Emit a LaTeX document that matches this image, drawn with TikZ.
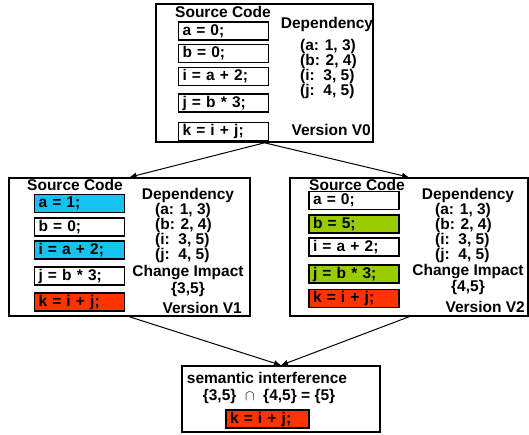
\documentclass[tikz,border=0pt]{standalone}
\usepackage{fontspec}
\setmainfont{Liberation Sans}
\usetikzlibrary{arrows.meta}

\definecolor{chblue}{RGB}{20,195,240}
\definecolor{chgreen}{RGB}{153,204,0}
\definecolor{chred}{RGB}{255,51,0}

\newcommand{\cpwhite}{white}
\newcommand{\cpblue}{chblue}
\newcommand{\cpgreen}{chgreen}
\newcommand{\cpred}{chred}
\newcommand{\codenode}[4]{\node[codebox,fill=#1] (#2) at (#3) {#4};}
\newcommand{\depnode}[2]{\node[deptext] (#1) at (#2) {(a: 1, 3)\\(b: 2, 4)\\(i:\ \ 3, 5)\\(j:\ \ 4, 5)};}

\tikzset{
  txt/.style={font=\bfseries\fontsize{15.5}{15}\selectfont,inner sep=0pt},
  verbox/.style={draw,line width=1.6pt,fill=white,inner sep=0pt},
  codebox/.style={txt,draw,line width=1.3pt,text width=82pt,inner xsep=4pt,
    minimum height=18pt,align=left},
  deptext/.style={txt,align=left,anchor=north west},
  flow/.style={line width=1pt,-{Latex[length=7pt,width=6pt]}}
}

\begin{document}
\begin{tikzpicture}[x=1pt,y=-1pt]
  \useasboundingbox (0,0) rectangle (529,435);

  % version boxes
  \node[verbox,minimum width=217pt,minimum height=138pt] (v0) at (264.5,73) {};
  \node[verbox,minimum width=241pt,minimum height=138pt] (v1) at (129.5,247) {};
  \node[verbox,minimum width=238pt,minimum height=138pt] (v2) at (409,247) {};
  \node[verbox,minimum width=198pt,minimum height=66pt] (si) at (281,399) {};

  % version V0
  \node[txt] (src0) at (223,12) {Source Code};
  \codenode{\cpwhite}{a0}{223.5,31}{a = 0;}
  \codenode{\cpwhite}{b0}{223.5,53.5}{b = 0;}
  \codenode{\cpwhite}{i0}{223.5,76.5}{i = a + 2;}
  \codenode{\cpwhite}{j0}{223.5,103}{j = b * 3;}
  \codenode{\cpwhite}{k0}{223.5,131.5}{k = i + j;}
  \node[txt] (dep0) at (327,24) {Dependency};
  \depnode{list0}{300,39}
  \node[txt,anchor=east] (ver0) at (371,130) {Version V0};

  % version V1
  \node[txt] (src1) at (75,185) {Source Code};
  \codenode{\cpblue}{a1}{79.5,203.5}{a = 1;}
  \codenode{\cpwhite}{b1}{79.5,227}{b = 0;}
  \codenode{\cpblue}{i1}{79.5,250}{i = a + 2;}
  \codenode{\cpwhite}{j1}{79.5,276}{j = b * 3;}
  \codenode{\cpred}{k1}{79.5,302}{k = i + j;}
  \node[txt] (dep1) at (188,195) {Dependency};
  \depnode{list1}{155,203.5}
  \node[txt] (chg1) at (188,272.5) {Change Impact};
  \node[txt] (set1) at (188,289) {\{3,5\}};
  \node[txt,anchor=east] (ver1) at (242,308) {Version V1};

  % version V2
  \node[txt] (src2) at (357,185) {Source Code};
  \codenode{\cpwhite}{a2}{354,200.5}{a = 0;}
  \codenode{\cpgreen}{b2}{354,224}{b = 5;}
  \codenode{\cpwhite}{i2}{354,247}{i = a + 2;}
  \codenode{\cpgreen}{j2}{354,274}{j = b * 3;}
  \codenode{\cpred}{k2}{354,298.5}{k = i + j;}
  \node[txt] (dep2) at (468,195) {Dependency};
  \depnode{list2}{435,203.5}
  \node[txt] (chg2) at (468,271.5) {Change Impact};
  \node[txt] (set2) at (468,287) {\{4,5\}};
  \node[txt,anchor=east] (ver2) at (525,307) {Version V2};

  % semantic interference
  \node[txt] (sem) at (267,378) {semantic interference};
  \node[txt] (cap) at (269,396) {\{3,5\}\ \ $\cap$\ \ \{4,5\} = \{5\}};
  \node[codebox,fill=\cpred,text width=75pt] (ks) at (267.5,419) {k = i + j;};

  % flow
  \draw[flow] (v0.south) -- (v1.north);
  \draw[flow] (v0.south) -- (v2.north);
  \draw[flow] (v1.south) -- (si.north);
  \draw[flow] (v2.south) -- (si.north);

\end{tikzpicture}
\end{document}
